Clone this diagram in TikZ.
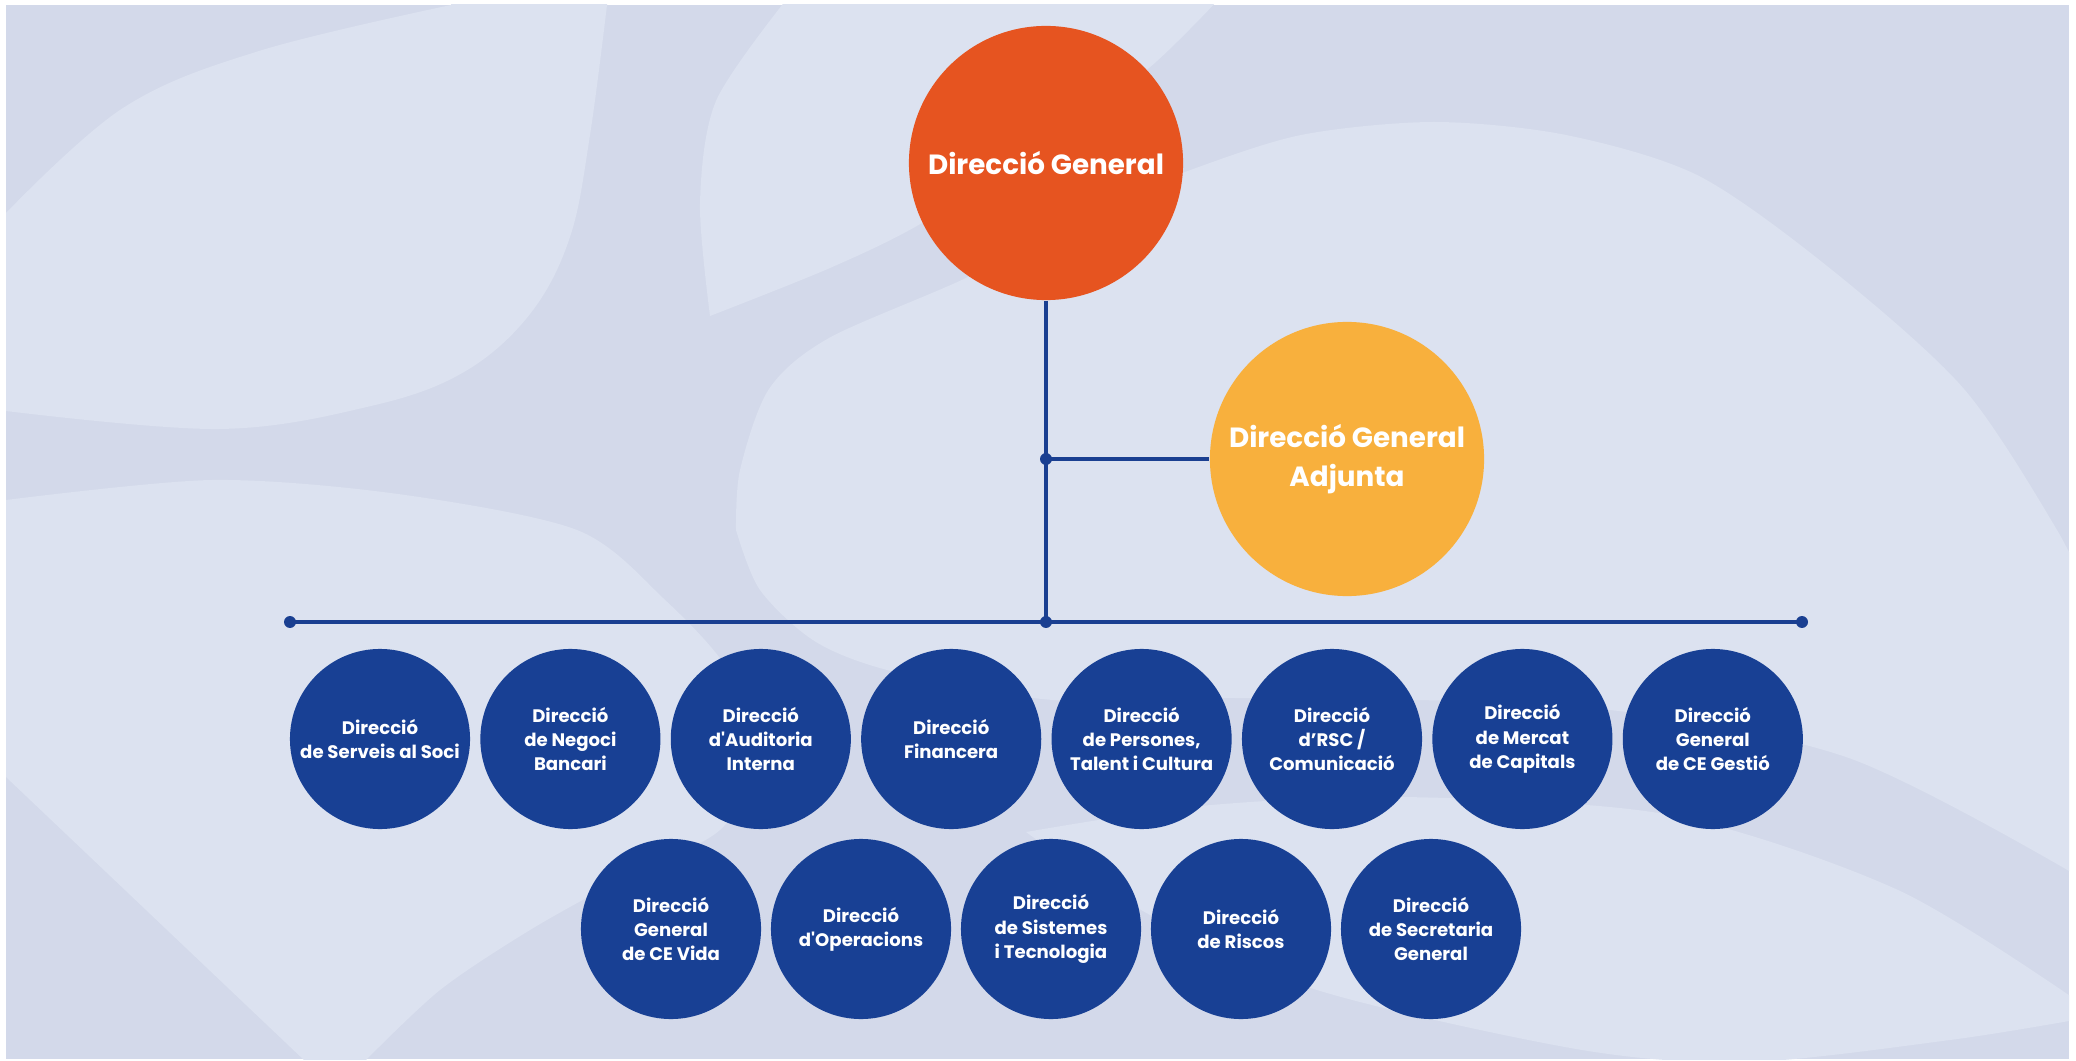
\documentclass[tikz,border=0pt]{standalone}
\usepackage{fontspec}
\setmainfont{Poppins}
\definecolor{bgdark}{RGB}{211,217,234}
\definecolor{bglight}{RGB}{220,226,240}
\definecolor{dgorange}{RGB}{230,84,32}
\definecolor{dgyellow}{RGB}{248,176,61}
\definecolor{dblue}{RGB}{24,64,148}
\definecolor{lineblue}{RGB}{26,63,145}
\newcommand\orgsmall{\fontsize{5.15}{6.9}\selectfont\bfseries}
\newcommand\orgbig{\fontsize{7.9}{11.3}\selectfont\bfseries}
\tikzset{
  org/.style={circle, fill=dblue, minimum size=1.8cm, inner sep=0pt, text=white, align=center, font=\orgsmall},
  topcircle/.style={circle, minimum size=2.74cm, inner sep=0pt, text=white, align=center, font=\orgbig},
  conn/.style={draw=lineblue, line width=1.1pt},
  jdot/.style={fill=lineblue},
}
\begin{document}
\begin{tikzpicture}[x=0.01cm,y=-0.01cm]
\useasboundingbox (0,0) rectangle (2076,1061);
\fill[white] (0,0) rectangle (2076,1061);
\fill[bgdark] (6,5) rectangle (2069,1059);
\begin{scope}
\clip (6,5) rectangle (2069,1059);
% shape A (top left)
\fill[bglight] (0,213) -- plot[smooth,tension=0.6] coordinates {(6,213) (123,108) (259,51) (451,5)} -- (451,0) -- (607,0) -- plot[smooth,tension=0.6] coordinates {(607,5) (590,135) (570,237) (530,314) (464,372) (371,406) (219,429) (6,411)} -- (0,411) -- cycle;
% shape B (top middle leaf)
\fill[bglight] plot[smooth] coordinates {(786,0) (716,101) (700,203) (710,316)} -- plot[smooth] coordinates {(710,316) (830,268) (922,223) (1050,140) (1149,68) (1218,0)} -- cycle;
% shape C (large central blob)
\fill[bglight] plot[smooth] coordinates {(736,530) (740,470) (769,389) (829,338) (968,277) (1080,215) (1185,172) (1301,135) (1434,122) (1566,135) (1699,176) (1832,270) (1964,389) (2057,530) (2090,600)} -- (2090,880) -- plot[smooth] coordinates {(2076,875) (1846,757) (1582,707) (1235,698) (1053,700) (895,672) (816,642) (760,590) (736,530)} -- cycle;
% shape D (bottom right band)
\fill[bglight] plot[smooth] coordinates {(1026,832) (1200,806) (1405,797) (1670,815) (1898,890) (2076,1000)} -- (2076,1020) -- plot[smooth] coordinates {(2069,1021) (1950,1040) (1750,1062) (1582,1050) (1317,990) (1150,915) (1026,832)} -- cycle;
% shape E (bottom left)
\fill[bglight] (0,500) -- plot[smooth] coordinates {(6,500) (212,480) (398,494) (577,530) (663,598) (729,672) (752,760) (720,830) (620,880) (530,930) (440,990) (365,1061)} -- (365,1070) -- (305,1070) -- (305,1061) -- (6,777) -- (0,777) -- cycle;
\end{scope}

% main nodes
\node[topcircle, fill=dgorange] (dg) at (1046,163) {Direcció General};
\node[topcircle, fill=dgyellow] (adj) at (1347,459) {Direcció General\\Adjunta};

% connectors
\coordinate (jadj) at (dg.south |- adj.west);
\coordinate (jbot) at (1046,622);
\coordinate (bl) at (290,622);
\coordinate (br) at (1802,622);
\draw[conn] (dg.south) -- (jbot);
\draw[conn] (jadj) -- (adj.west);
\draw[conn] (bl) -- (br);
\fill[jdot] (jadj) circle[radius=1.7pt];
\fill[jdot] (jbot) circle[radius=1.7pt];
\fill[jdot] (bl) circle[radius=1.7pt];
\fill[jdot] (br) circle[radius=1.7pt];

% top row
\node[org] (t1) at (380,739) {Direcció\\de Serveis al Soci};
\node[org] (t2) at (570.4,739) {Direcció\\de Negoci\\Bancari};
\node[org] (t3) at (760.8,739) {Direcció\\d\textquotesingle Auditoria\\Interna};
\node[org] (t4) at (951.2,739) {Direcció\\Financera};
\node[org] (t5) at (1141.6,739) {Direcció\\de Persones,\\Talent i Cultura};
\node[org] (t6) at (1332,739) {Direcció\\d’RSC /\\Comunicació};
\node[org] (t7) at (1522.4,739) {Direcció\\de Mercat\\de Capitals};
\node[org] (t8) at (1712.8,739) {Direcció\\General\\de CE Gestió};

% bottom row
\node[org] (b1) at (671,929) {Direcció\\General\\de CE Vida};
\node[org] (b2) at (861,929) {Direcció\\d\textquotesingle Operacions};
\node[org] (b3) at (1051,929) {Direcció\\de Sistemes\\i Tecnologia};
\node[org] (b4) at (1241,929) {Direcció\\de Riscos};
\node[org] (b5) at (1431,929) {Direcció\\de Secretaria\\General};
\end{tikzpicture}
\end{document}
